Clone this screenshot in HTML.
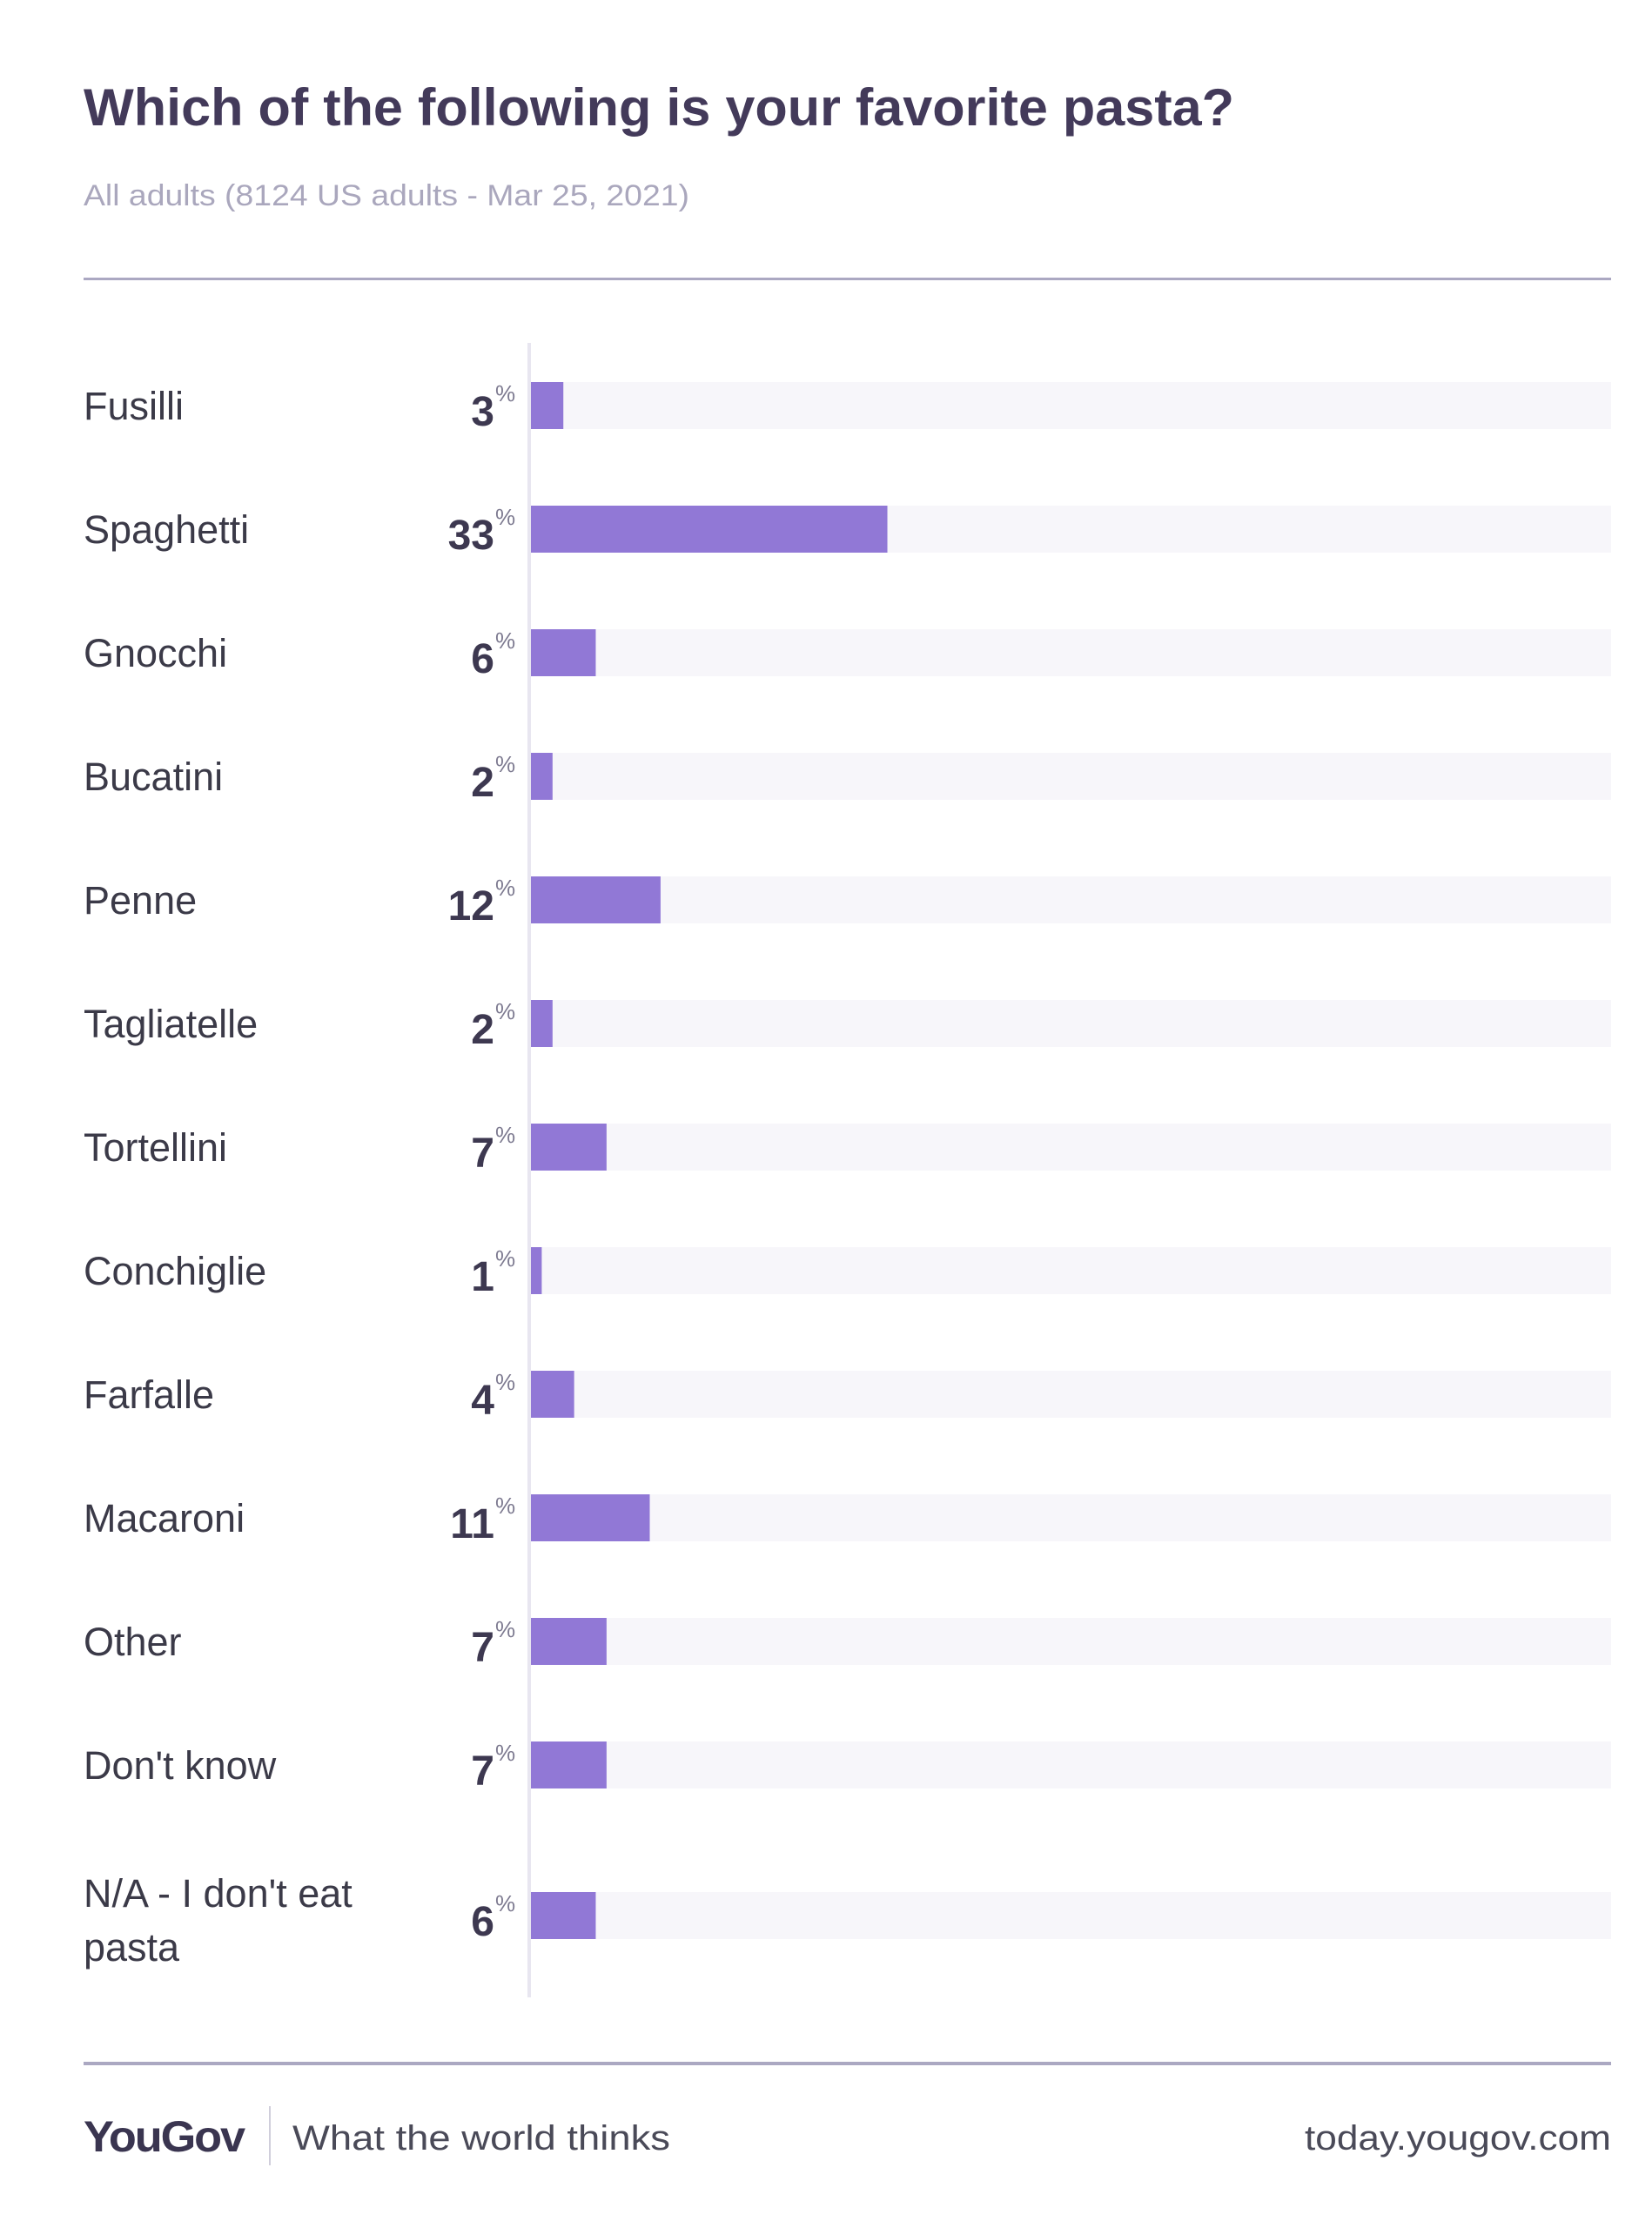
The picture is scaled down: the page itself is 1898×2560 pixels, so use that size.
<!DOCTYPE html>
<html><head><meta charset="utf-8"><style>
html,body{margin:0;padding:0;background:#fff;}
svg{display:block;}
text{font-family:"Liberation Sans",sans-serif;}
</style></head><body>
<svg width="1898" height="2560" viewBox="0 0 1898 2560" xmlns="http://www.w3.org/2000/svg">
<rect width="1898" height="2560" fill="#fff"/>
<text x="96" y="144" font-size="60" font-weight="bold" fill="#433a5a" textLength="1322" lengthAdjust="spacingAndGlyphs">Which of the following is your favorite pasta?</text>
<text x="96" y="236" font-size="34" fill="#aaa7bd" textLength="696" lengthAdjust="spacingAndGlyphs">All adults (8124 US adults - Mar 25, 2021)</text>
<rect x="96" y="319" width="1755" height="3" fill="#aba8c2"/>
<rect x="606" y="394" width="4" height="1901" fill="#e8e6f0"/>
<g id="rows">
</g>
<rect x="96" y="2369" width="1755" height="4" fill="#aba8c2"/>
<text x="96" y="2472" font-size="50" font-weight="bold" fill="#3a3550" textLength="184" lengthAdjust="spacingAndGlyphs" letter-spacing="-2">YouGov</text>
<rect x="309" y="2420" width="2" height="68" fill="#d0cedb"/>
<text x="336" y="2470" font-size="40" fill="#4a4a58" textLength="434" lengthAdjust="spacingAndGlyphs">What the world thinks</text>
<text x="1851" y="2470" font-size="40" fill="#4a4a58" text-anchor="end" textLength="352" lengthAdjust="spacingAndGlyphs">today.yougov.com</text>
</svg>
<script>
var d=[["Fusilli",3],["Spaghetti",33],["Gnocchi",6],["Bucatini",2],["Penne",12],["Tagliatelle",2],["Tortellini",7],["Conchiglie",1],["Farfalle",4],["Macaroni",11],["Other",7],["Don't know",7]];
var g=document.getElementById("rows"),h="";
function row(label,v,top,two){
 h+='<rect x="610" y="'+top+'" width="1241" height="54" fill="#f7f6fa"/>';
 h+='<rect x="610" y="'+top+'" width="'+(v*12.41)+'" height="54" fill="#9178d6"/>';
 if(two){h+='<text x="96" y="2191" font-size="45" fill="#3b3a48">N/A - I don\'t eat</text><text x="96" y="2253" font-size="45" fill="#3b3a48">pasta</text>';}
 else h+='<text x="96" y="'+(top+43)+'" font-size="45" fill="#3b3a48">'+label+'</text>';
 h+='<text x="568" y="'+(top+50)+'" font-size="48" font-weight="bold" fill="#3d3850" text-anchor="end">'+v+'</text>';
 h+='<text x="569" y="'+(top+22)+'" font-size="26" fill="#7d7a90">%</text>';
}
d.forEach(function(r,i){row(r[0],r[1],439+142*i,false);});
row("",6,2174,true);
g.innerHTML=h;
</script>
</body></html>
